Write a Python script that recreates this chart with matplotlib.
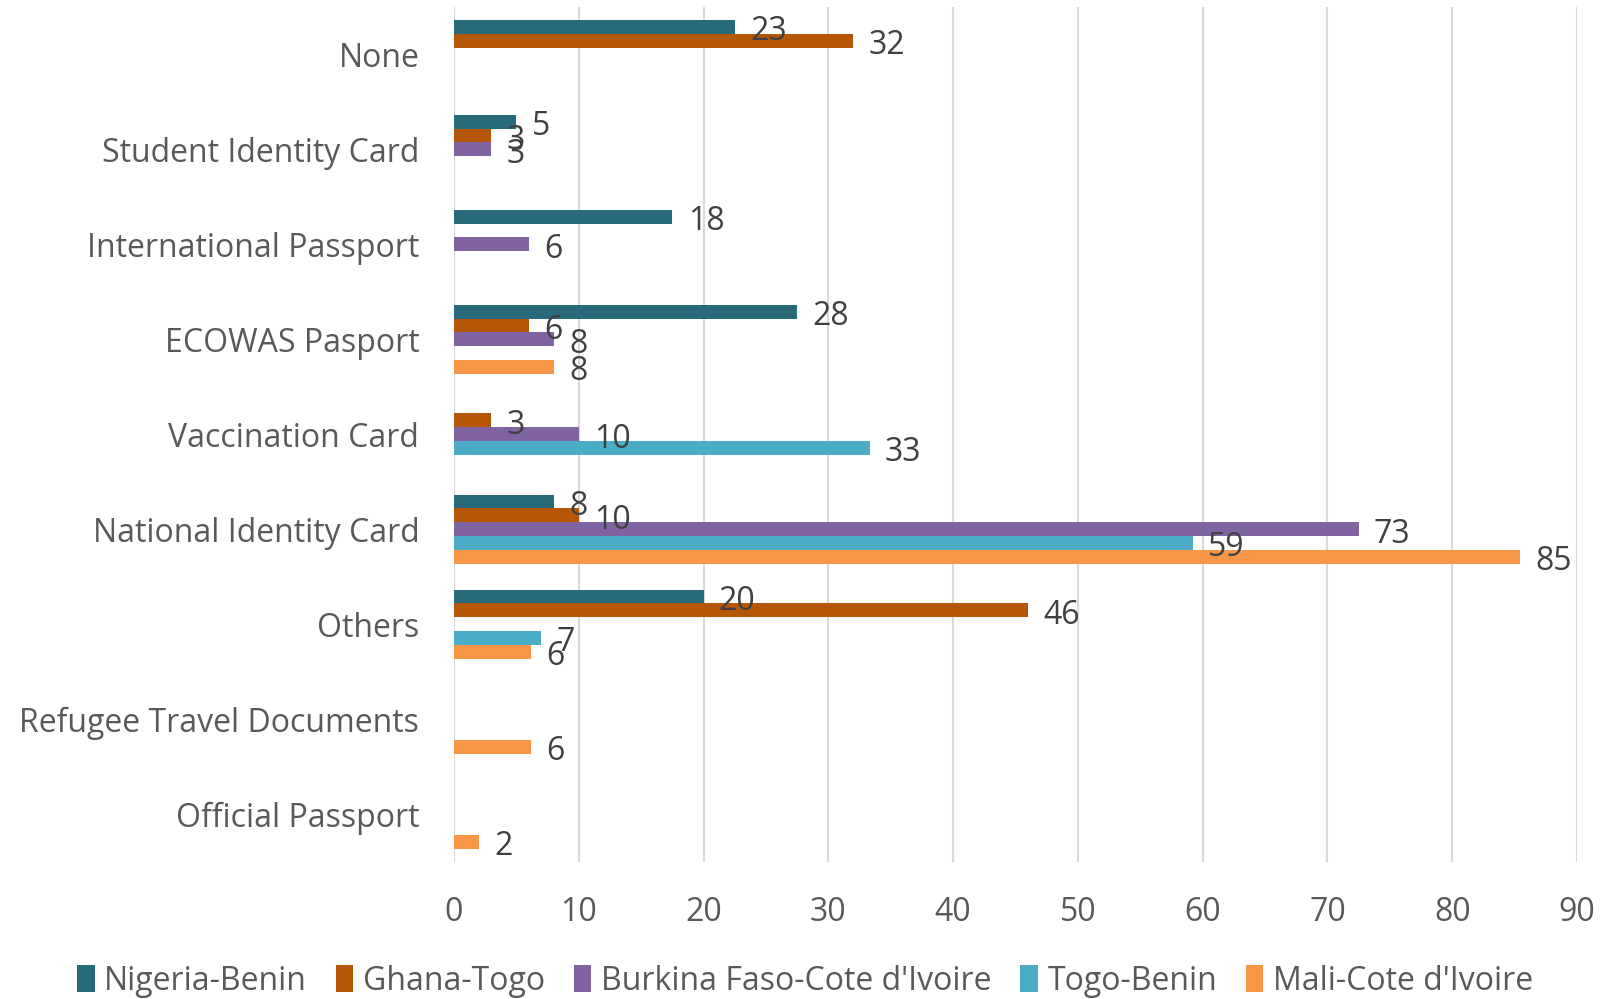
import matplotlib
matplotlib.use("Agg")
import matplotlib.pyplot as plt
import numpy as np

plt.rcParams['font.family'] = ['Open Sans', 'DejaVu Sans']

categories = ["None", "Student Identity Card", "International Passport", "ECOWAS Pasport",
              "Vaccination Card", "National Identity Card", "Others",
              "Refugee Travel Documents", "Official Passport"]

series_names = ["Nigeria-Benin", "Ghana-Togo", "Burkina Faso-Cote d'Ivoire",
                "Togo-Benin", "Mali-Cote d'Ivoire"]
colors = ["#276A7C", "#B65708", "#8064A2", "#4BACC6", "#F79646"]

# bar lengths (0 = no bar)
nigeria_benin = [22.5, 5, 17.5, 27.5, 0, 8, 20, 0, 0]
ghana_togo = [32, 3, 0, 6, 3, 10, 46, 0, 0]
burkina_ci = [0, 3, 6, 8, 10, 72.5, 0, 0, 0]
togo_benin = [0, 0, 0, 0, 33.3, 59.2, 7, 0, 0]
mali_ci = [0, 0, 0, 8, 0, 85.4, 6.2, 6.2, 2]

# labels as shown on the chart
nigeria_labels = ["23", "5", "18", "28", "", "8", "20", "", ""]
ghana_labels = ["32", "3", "", "6", "3", "10", "46", "", ""]
burkina_labels = ["", "3", "6", "8", "10", "73", "", "", ""]
togo_labels = ["", "", "", "", "33", "59", "7", "", ""]
mali_labels = ["", "", "", "8", "", "85", "6", "6", "2"]

all_values = [nigeria_benin, ghana_togo, burkina_ci, togo_benin, mali_ci]
all_labels = [nigeria_labels, ghana_labels, burkina_labels, togo_labels, mali_labels]

fig = plt.figure(figsize=(16.1, 9.99), dpi=100)
ax = fig.add_axes([0.282, 0.1376, 0.6975, 0.8554])

y = np.arange(len(categories))
slot = 0.146
for i, (vals, labs) in enumerate(zip(all_values, all_labels)):
    pos = y + (i - 2) * slot
    ax.barh(pos, vals, height=slot, color=colors[i], label=series_names[i])
    for v, p, lab in zip(vals, pos, labs):
        if lab:
            ax.annotate(lab, (v, p), xytext=(11, -3.5), textcoords='offset points',
                        ha='left', va='center', fontsize=23, color="#404040")

ax.set_ylim(len(categories) - 0.5, -0.5)
ax.set_xlim(0, 90)
ax.set_xticks(np.arange(0, 91, 10))
ax.set_yticks(y)
ax.set_yticklabels(categories)
ax.tick_params(axis='both', length=0, labelsize=23, colors="#595959")
ax.tick_params(axis='y', pad=25)
ax.tick_params(axis='x', pad=25)
ax.grid(axis='x', color="#D9D9D9", linewidth=1.5)
ax.set_axisbelow(True)
for s in ax.spines.values():
    s.set_visible(False)

fig.legend(loc='center', bbox_to_anchor=(0.5, 0.018), ncol=5, frameon=False,
           fontsize=23, labelcolor="#595959", handlelength=0.55, handleheight=0.9,
           handletextpad=0.3, columnspacing=0.9)

fig.savefig("out.png", dpi=100)
